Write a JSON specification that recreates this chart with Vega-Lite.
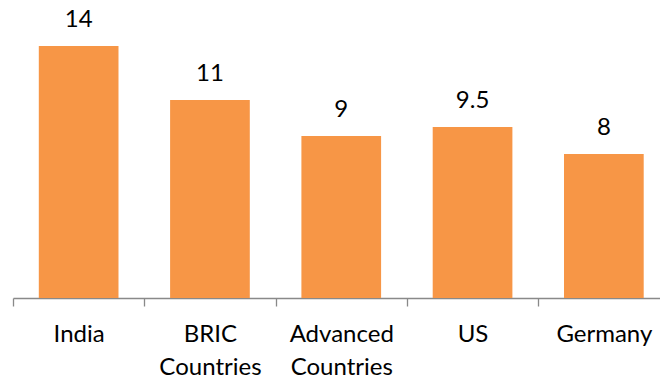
{
  "$schema": "https://vega.github.io/schema/vega-lite/v6.json",
  "autosize": "none",
  "padding": {"left": 13, "top": 0, "right": 0, "bottom": 82},
  "width": 656.5,
  "height": 298,
  "background": "white",
  "config": {"view": {"stroke": null}, "font": "Lato"},
  "data": {"values": [
    {"region": "India", "value": 14},
    {"region": "BRIC Countries", "value": 11},
    {"region": "Advanced Countries", "value": 9},
    {"region": "US", "value": 9.5},
    {"region": "Germany", "value": 8}
  ]},
  "encoding": {
    "x": {"field": "region", "type": "nominal", "sort": null,
      "scale": {"paddingInner": 0, "paddingOuter": 0},
      "axis": {"title": null, "labelAngle": 0, "labelExpr": "split(datum.label, ' ')",
        "labelFont": "Lato", "labelFontSize": 24, "labelColor": "#000000", "labelLineHeight": 33,
        "labelPadding": 16, "tickSize": 8, "tickBand": "extent", "domainColor": "#898989", "tickColor": "#898989",
        "domainWidth": 1.3, "tickWidth": 1.3}},
    "y": {"field": "value", "type": "quantitative", "scale": {"domain": [0, 16.55]}, "axis": null}
  },
  "layer": [
    {"mark": {"type": "bar", "color": "#F79646", "width": {"band": 0.607}}},
    {"mark": {"type": "text", "baseline": "alphabetic", "dy": -18.5, "fontSize": 24, "font": "Lato", "color": "#000000"},
     "encoding": {"text": {"field": "value", "type": "quantitative"}}}
  ]
}
